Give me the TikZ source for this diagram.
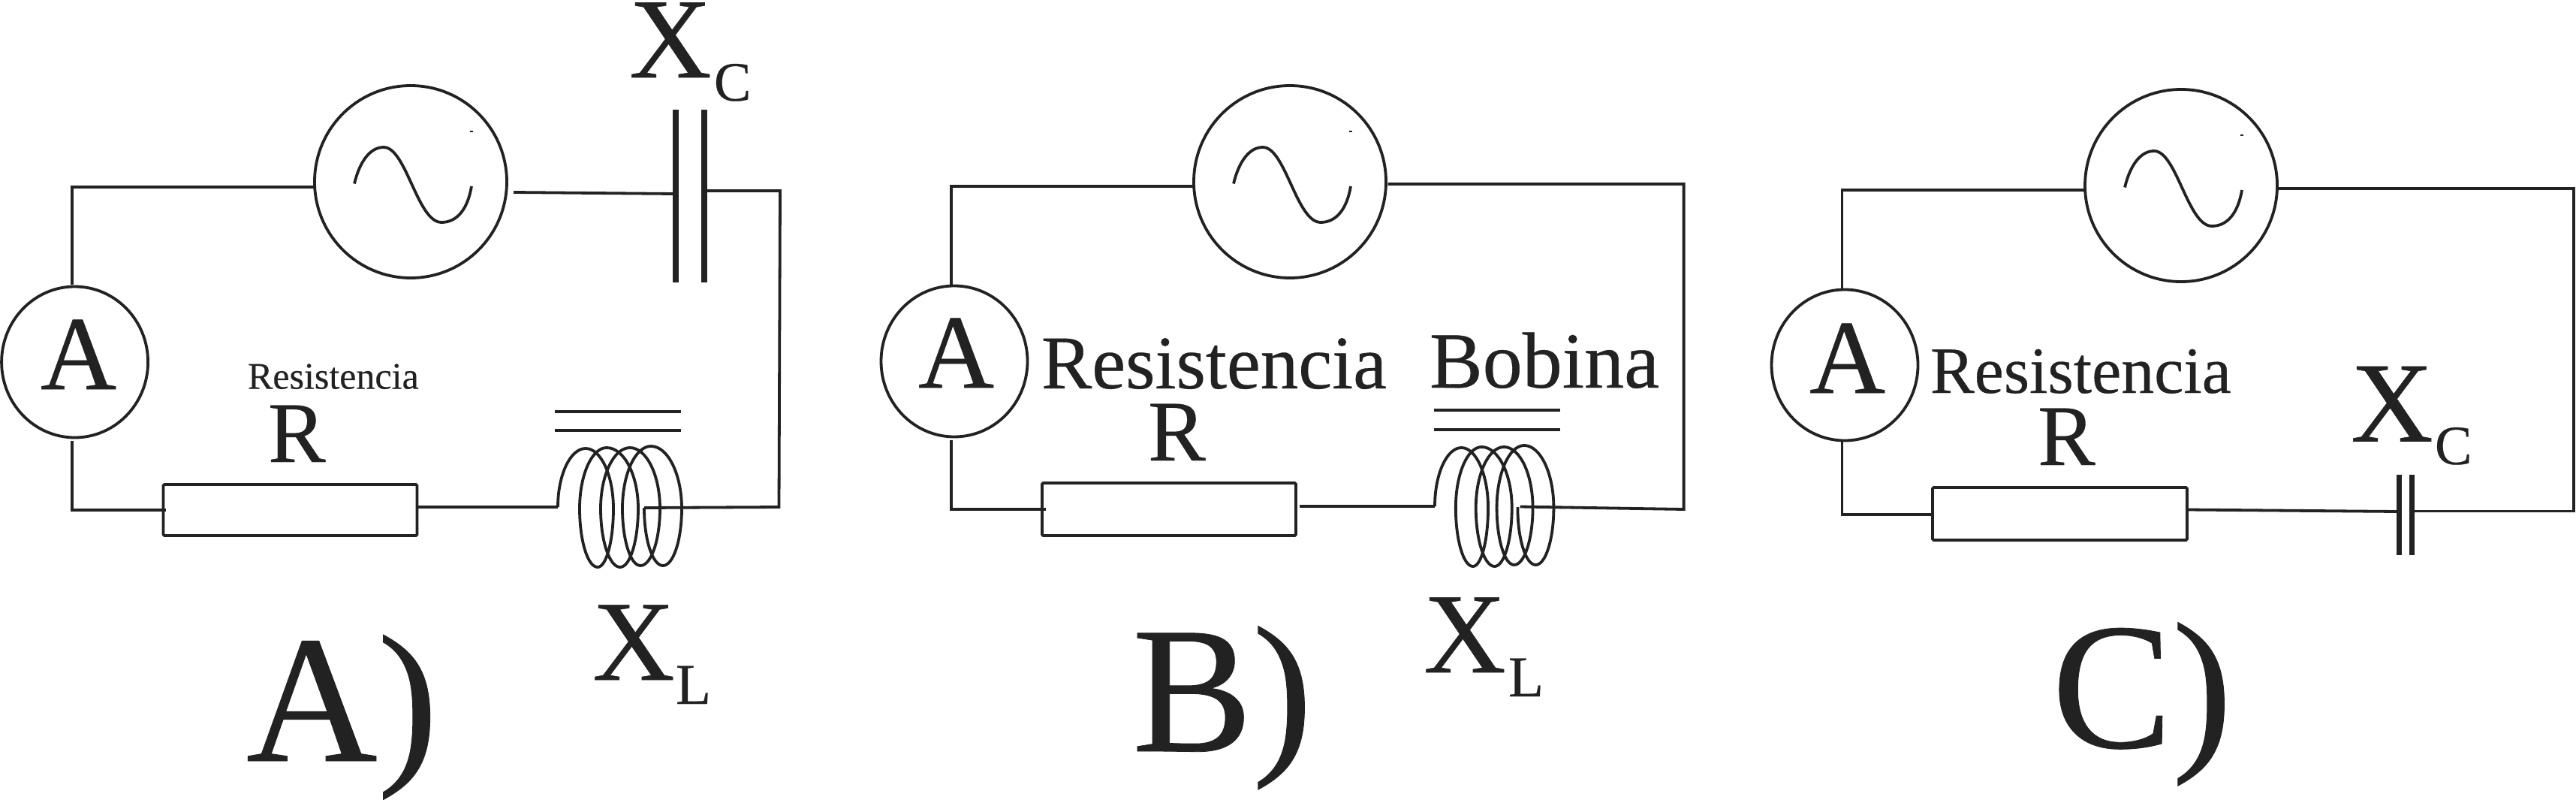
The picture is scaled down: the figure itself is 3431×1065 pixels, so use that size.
\documentclass[tikz,border=0pt]{standalone}
\usepackage{fontspec}
\setmainfont[FakeBold=.35]{Liberation Serif}
\usetikzlibrary{shapes.geometric}
\definecolor{ink}{HTML}{222222}
\newcommand{\coilvh}[4]{.. controls (#1,{#2+.55*(#4-#2)}) and ({#3-.55*(#3-#1)},#4) .. (#3,#4)}
\newcommand{\coilhv}[4]{.. controls ({#1+.55*(#3-#1)},#2) and (#3,{#4-.55*(#4-#2)}) .. (#3,#4)}
\newcommand{\fs}[1]{\fontsize{#1}{#1}\selectfont}
\tikzset{
  x=1pt,y=-1pt,
  wire/.style={draw=ink,line width=3.8pt,line join=miter},
  plate/.style={draw=ink,line width=8pt},
  coreline/.style={draw=ink,line width=4pt},
  gencirc/.style={circle,draw=ink,line width=3.8pt,minimum size=256pt,inner sep=0pt},
  ammcirc/.style={ellipse,draw=ink,line width=3.8pt,minimum width=195pt,minimum height=201pt,inner sep=0pt},
  resbox/.style={rectangle,draw=ink,line width=3.8pt,rounded corners=1.5pt,inner sep=0pt},
  lbl/.style={anchor=base west,inner sep=0pt,outer sep=0pt,text=ink},
  sinew/.pic={
    \draw[draw=ink,line width=3.8pt] (-75,2.5) .. controls (-68,-27) and (-54,-46) .. (-36,-46)
      .. controls (-6,-46) and (9,54) .. (41,54)
      .. controls (62,54) and (76,36) .. (81,6);
    \draw[draw=ink,line width=1.2pt] (79,-67) -- (83,-67);
  },
  coilpic/.pic={
    \draw[draw=ink,line width=3.8pt] (0,0) \coilvh{0}{0}{37}{-78} \coilhv{37}{-78}{74}{2}
      \coilvh{74}{2}{53}{80} \coilhv{53}{80}{29}{2}
      \coilvh{29}{2}{65}{-79} \coilhv{65}{-79}{107}{2}
      \coilvh{107}{2}{83}{80} \coilhv{83}{80}{57}{2}
      \coilvh{57}{2}{96}{-79} \coilhv{96}{-79}{136}{2}
      \coilvh{136}{2}{110}{78} \coilhv{110}{78}{86}{2}
      \coilvh{86}{2}{124}{-81} \coilhv{124}{-81}{165}{2}
      \coilvh{165}{2}{140}{78} \coilhv{140}{78}{115}{2}
      -- (115,1);
  }
}
\begin{document}
\begin{tikzpicture}
\useasboundingbox (0,0) rectangle (3431,1065);
% ---------- Panel A
\node[gencirc] (Agen) at (547,242) {};
\node[ammcirc] (Aamm) at (99.6,482) {};
\node[resbox,minimum width=338pt,minimum height=68pt] (Ares) at (386.5,679) {};
\pic at (Agen.center) {sinew};
\coordinate (Aamt) at (96,379); \coordinate (Aamb) at (96,587);
\coordinate (Agl) at (419.5,249); \coordinate (Agr) at (684,256);
\coordinate (Ac1t) at (900,146); \coordinate (Ac1b) at (900,375.6);
\coordinate (Ac2t) at (938,146); \coordinate (Ac2b) at (938,375.6);
\coordinate (Ac1w) at (898,258); \coordinate (Ac2w) at (942,254);
\coordinate (Acr) at (1039,254); \coordinate (Abr) at (1037.5,675);
\coordinate (Acoilin) at (858,676); \coordinate (Acoil) at (743,675);
\coordinate (Arl) at (221,679); \coordinate (Arr) at (555.6,675);
\coordinate (Alt1) at (739,548); \coordinate (Alt2) at (907,548);
\coordinate (Alb1) at (739,573); \coordinate (Alb2) at (907,573);
\draw[wire] (Aamt) -- (Aamt |- Agl) -- (Agl);
\draw[wire] (Agr) -- (Ac1w);
\draw[plate] (Ac1t) -- (Ac1b);
\draw[plate] (Ac2t) -- (Ac2b);
\draw[wire] (Ac2w) -- (Acr) -- (Abr) -- (Acoilin);
\draw[wire] (Aamb) -- (Aamb |- Arl) -- (Arl);
\draw[wire] (Arr) -- (Acoil);
\pic at (Acoil) {coilpic};
\draw[coreline] (Alt1) -- (Alt2);
\draw[coreline] (Alb1) -- (Alb2);
\node[lbl,font=\fs{140}] (At1) at (54,518) {A};
\node[lbl,font=\fs{50}] (At2) at (330,517.5) {Resistencia};
\node[lbl,font=\fs{115}] (At3) at (357,615) {R};
\node[lbl,font=\fs{152}] (At4) at (838,103) {X};
\node[lbl,font=\fs{74}] (At5) at (951,134) {C};
\node[lbl,font=\fs{152}] (At6) at (789,905) {X};
\node[lbl,font=\fs{77}] (At7) at (900,937) {L};
\node[lbl,font=\fs{242}] (At8) at (328,1013) {A)};
% ---------- Panel B
\node[gencirc] (Bgen) at (1718,242) {};
\node[ammcirc] (Bamm) at (1271,481) {};
\node[resbox,minimum width=338pt,minimum height=70pt] (Bres) at (1557,678) {};
\pic at (Bgen.center) {sinew};
\coordinate (Bamt) at (1267,379); \coordinate (Bamb) at (1267,586);
\coordinate (Bgl) at (1590.6,248); \coordinate (Bgr) at (1848.7,245);
\coordinate (Btr) at (2242.6,245); \coordinate (Bbr) at (2242.6,678);
\coordinate (Bcoilin) at (2024.7,674.5); \coordinate (Bcoil) at (1911,674);
\coordinate (Brl) at (1392.6,678); \coordinate (Brr) at (1731,674);
\coordinate (Blt1) at (1909.6,546); \coordinate (Blt2) at (2078,546);
\coordinate (Blb1) at (1909.6,572); \coordinate (Blb2) at (2078,572);
\draw[wire] (Bamt) -- (Bamt |- Bgl) -- (Bgl);
\draw[wire] (Bgr) -- (Btr) -- (Bbr) -- (Bcoilin);
\draw[wire] (Bamb) -- (Bamb |- Brl) -- (Brl);
\draw[wire] (Brr) -- (Bcoil);
\pic[xscale=.96] at (Bcoil) {coilpic};
\draw[coreline] (Blt1) -- (Blt2);
\draw[coreline] (Blb1) -- (Blb2);
\node[lbl,font=\fs{140}] (Bt1) at (1223,516) {A};
\node[lbl,font=\fs{101}] (Bt2) at (1387,517) {Resistencia};
\node[lbl,font=\fs{115}] (Bt3) at (1529,613) {R};
\node[lbl,font=\fs{106}] (Bt4) at (1904,516) {Bobina};
\node[lbl,font=\fs{152}] (Bt5) at (1896,895) {X};
\node[lbl,font=\fs{77}] (Bt6) at (2009,927) {L};
\node[lbl,font=\fs{240}] (Bt7) at (1508,1000) {B)};
% ---------- Panel C
\node[gencirc] (Cgen) at (2905,247) {};
\node[ammcirc] (Camm) at (2457,486) {};
\node[resbox,minimum width=339pt,minimum height=70pt] (Cres) at (2743.5,684) {};
\pic at (Cgen.center) {sinew};
\coordinate (Camt) at (2453.5,384); \coordinate (Camb) at (2453.5,586);
\coordinate (Cgl) at (2776,253); \coordinate (Cgr) at (3033,251);
\coordinate (Ctr) at (3428,251); \coordinate (Cbr) at (3428,680.5);
\coordinate (Cc2w) at (3216,680.5); \coordinate (Cc1w) at (3193,681);
\coordinate (Crr) at (2913.6,678.5); \coordinate (Crl) at (2574,684.6);
\coordinate (Cc1t) at (3195.7,632); \coordinate (Cc1b) at (3195.7,739);
\coordinate (Cc2t) at (3212,632); \coordinate (Cc2b) at (3212,739);
\draw[wire] (Camt) -- (Camt |- Cgl) -- (Cgl);
\draw[wire] (Cgr) -- (Ctr) -- (Cbr) -- (Cc2w);
\draw[wire] (Camb) -- (Camb |- Crl) -- (Crl);
\draw[wire] (Crr) -- (Cc1w);
\draw[plate,line width=7pt] (Cc1t) -- (Cc1b);
\draw[plate,line width=7pt] (Cc2t) -- (Cc2b);
\node[lbl,font=\fs{140}] (Ct1) at (2410,523) {A};
\node[lbl,font=\fs{88}] (Ct2) at (2571,523) {Resistencia};
\node[lbl,font=\fs{115}] (Ct3) at (2714,619) {R};
\node[lbl,font=\fs{152}] (Ct4) at (3131,587.5) {X};
\node[lbl,font=\fs{74}] (Ct5) at (3243,618) {C};
\node[lbl,font=\fs{240}] (Ct6) at (2733,995) {C)};
\end{tikzpicture}
\end{document}
